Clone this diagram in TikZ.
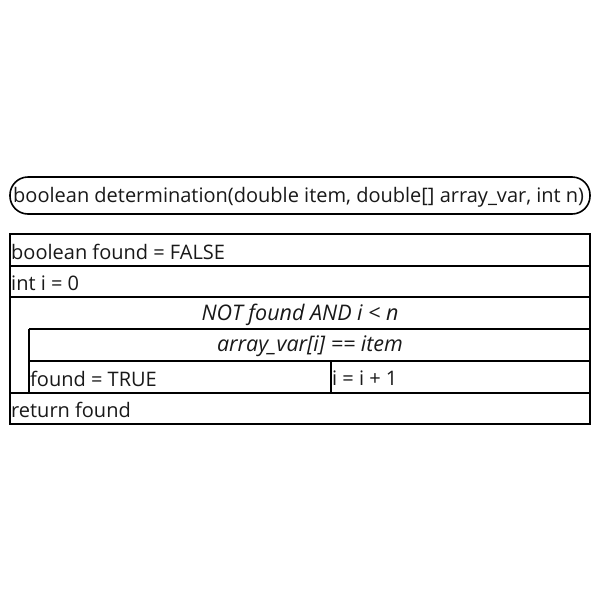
\documentclass[tikz,border=0pt]{standalone}
\usepackage{fontspec}
\setmainfont{Open Sans}
\begin{document}
\begin{tikzpicture}[x=1pt,y=-1pt,
  box/.style={draw=black,line width=1.6pt},
  txt/.style={inner sep=0pt,font=\fontsize{20}{22}\selectfont,text=black!90},
  lbl/.style={txt,anchor=west},
  cond/.style={txt,font=\fontsize{21.5}{23}\selectfont\itshape}]
\useasboundingbox[fill=white] (0,0) rectangle (600,600);
% header
\draw[box,rounded corners=18pt] (10,177) rectangle (590,214);
\node[lbl] (hdr) at (13,197) {boolean determination(double item, double[] array\_var, int n)};
% main table
\draw[box] (10,234) rectangle (590,424);
\draw[box] (10,266) -- (590,266);
\draw[box] (10,297) -- (590,297);
\draw[box] (29,329) -- (590,329);
\draw[box] (29,329) -- (29,393);
\draw[box] (29,361) -- (590,361);
\draw[box] (331,361) -- (331,393);
\draw[box] (10,393) -- (590,393);
\node[lbl] (s1) at (11,251.5) {boolean found = FALSE};
\node[lbl] (s2) at (11,283) {int i = 0};
\node[cond] (loop) at (300,314.5) {NOT found AND i < n};
\node[cond] (ifc) at (310,346.5) {array\_var[i] == item};
\node[lbl] (t1) at (30,378.5) {found = TRUE};
\node[lbl] (t2) at (332,378.5) {i = i + 1};
\node[lbl] (ret) at (11,410) {return found};
\end{tikzpicture}
\end{document}
